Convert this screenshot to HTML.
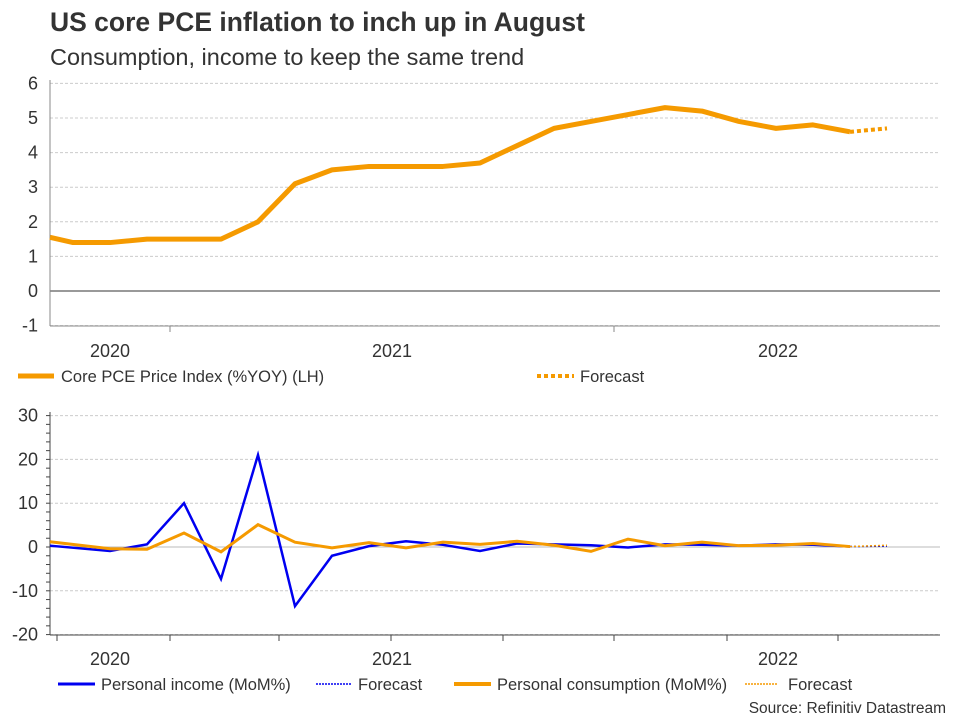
<!DOCTYPE html>
<html><head><meta charset="utf-8"><style>
body{margin:0;width:960px;height:720px;background:#fff;font-family:"Liberation Sans",Arial,sans-serif;overflow:hidden}
svg text{font-family:"Liberation Sans",Arial,sans-serif}
</style></head><body>
<svg id="c" width="960" height="720">
<text x="50" y="31" font-size="26.5" font-weight="bold" fill="#333">US core PCE inflation to inch up in August</text>
<text x="50" y="65" font-size="23.5" fill="#333">Consumption, income to keep the same trend</text>
<text x="946" y="713" font-size="15.5" fill="#333" text-anchor="end">Source: Refinitiv Datastream</text>
<g id="top"></g><g id="bot"></g>
</svg>
<script>
const topTicks=[-1,0,1,2,3,4,5,6];
const pce=[1.55,1.4,1.4,1.5,1.5,1.5,2.0,3.1,3.5,3.6,3.6,3.6,3.7,4.2,4.7,4.9,5.1,5.3,5.2,4.9,4.7,4.8,4.6];
const pceForecast=4.7;
const botTicks=[-20,-10,0,10,20,30];
const income=[0.3,-0.9,0.6,10,-7.3,21,-13.5,-2,0.2,1.3,0.5,-0.9,0.8,0.6,0.4,-0.1,0.6,0.5,0.3,0.6,0.5,0.1];
const incomeForecast=0.2;
const consumption=[1.2,-0.4,-0.5,3.2,-1.1,5.1,1.1,-0.2,1.0,-0.2,1.1,0.6,1.3,0.4,-1.0,1.8,0.3,1.1,0.3,0.4,0.8,0.1];
const consumptionForecast=0.4;
const yearLabels=["2020","2021","2022"];
const NS="http://www.w3.org/2000/svg";
function mk(p,t,a){const e=document.createElementNS(NS,t);for(const k in a)e.setAttribute(k,a[k]);p.appendChild(e);return e;}
const xTop=i=>i===0?50:73+37*(i-1);
const xBot=i=>i===0?50:110+37*(i-1);
const yTop=v=>291-34.6*v;
const yBot=v=>547-4.38*v;
const T=document.getElementById('top'),B=document.getElementById('bot');
topTicks.forEach(v=>{
 const l=mk(T,'line',{x1:50,x2:940,y1:yTop(v),y2:yTop(v),stroke:v===0?'#333':'#ccc','stroke-dasharray':v===0?'':'3,2'});
 
 const t=mk(T,'text',{x:38,y:yTop(v)+6,'font-size':18,fill:'#333','text-anchor':'end'});t.textContent=v;
 
});
mk(T,'line',{x1:50,x2:50,y1:80,y2:326,stroke:'#888'});
mk(T,'line',{x1:50,x2:940,y1:326,y2:326,stroke:'#888'});
[170,614].forEach(x=>mk(T,'line',{x1:x,x2:x,y1:326,y2:332,stroke:'#888'}));
[110,392,778].forEach((x,i)=>{const t=mk(T,'text',{x:x,y:357,'font-size':18,fill:'#333','text-anchor':'middle'});t.textContent=yearLabels[i];
 });
let p=mk(T,'polyline',{points:pce.map((v,i)=>xTop(i)+','+yTop(v)).join(' '),fill:'none',stroke:'#f59a00','stroke-width':5,'stroke-linejoin':'round'});

const L=pce.length-1;
p=mk(T,'line',{x1:xTop(L),y1:yTop(pce[L]),x2:xTop(L+1),y2:yTop(pceForecast),stroke:'#f59a00','stroke-width':4,'stroke-dasharray':'4,3'});

mk(T,'line',{x1:18,x2:54,y1:376,y2:376,stroke:'#f59a00','stroke-width':5});
let t=mk(T,'text',{x:61,y:382,'font-size':16.5,fill:'#333'});t.textContent='Core PCE Price Index (%YOY) (LH)';

mk(T,'line',{x1:537,x2:574,y1:376,y2:376,stroke:'#f59a00','stroke-width':4,'stroke-dasharray':'4,3'});
t=mk(T,'text',{x:580,y:382,'font-size':16.5,fill:'#333'});t.textContent='Forecast';

botTicks.forEach(v=>{
 const l=mk(B,'line',{x1:50,x2:940,y1:yBot(v),y2:yBot(v),stroke:v===0?'#bbb':'#ccc','stroke-dasharray':v===0?'':'3,2'});
 
 const t=mk(B,'text',{x:38,y:yBot(v)+6,'font-size':18,fill:'#333','text-anchor':'end'});t.textContent=v;
 
});
for(let v=-20;v<=30;v+=2)mk(B,'line',{x1:46,x2:50,y1:yBot(v),y2:yBot(v),stroke:'#444'});
mk(B,'line',{x1:50,x2:50,y1:412,y2:635,stroke:'#444'});
mk(B,'line',{x1:50,x2:940,y1:635,y2:635,stroke:'#444'});
[57,170,279,391,503,614,727,838].forEach(x=>mk(B,'line',{x1:x,x2:x,y1:635,y2:641,stroke:'#444'}));
[110,392,778].forEach((x,i)=>{const t=mk(B,'text',{x:x,y:665,'font-size':18,fill:'#333','text-anchor':'middle'});t.textContent=yearLabels[i];
 });
p=mk(B,'polyline',{points:income.map((v,i)=>xBot(i)+','+yBot(v)).join(' '),fill:'none',stroke:'#0000f0','stroke-width':2.5});

p=mk(B,'polyline',{points:consumption.map((v,i)=>xBot(i)+','+yBot(v)).join(' '),fill:'none',stroke:'#f59a00','stroke-width':3});

const M=income.length-1;
p=mk(B,'line',{x1:xBot(M),y1:yBot(income[M]),x2:xBot(M+1),y2:yBot(incomeForecast),stroke:'#0000f0','stroke-width':1.5,'stroke-dasharray':'2,2'});

const N=consumption.length-1;
p=mk(B,'line',{x1:xBot(N),y1:yBot(consumption[N]),x2:xBot(N+1),y2:yBot(consumptionForecast),stroke:'#f59a00','stroke-width':1.5,'stroke-dasharray':'2,2'});

const leg=[[58,95,'#0000f0',3,'','Personal income (MoM%)','legend-income'],[316,352,'#0000f0',1.5,'2,1','Forecast','legend-income-forecast'],[454,491,'#f59a00',4,'','Personal consumption (MoM%)','legend-consumption'],[745,778,'#f59a00',1.5,'2,1','Forecast','legend-consumption-forecast']];
leg.forEach(d=>{mk(B,'line',{x1:d[0],x2:d[1],y1:684,y2:684,stroke:d[2],'stroke-width':d[3],'stroke-dasharray':d[4]});
 const t=mk(B,'text',{x:d[1]+(d[0]>700?10:6),y:690,'font-size':16.5,fill:'#333'});t.textContent=d[5];
 });
</script>
</body></html>
